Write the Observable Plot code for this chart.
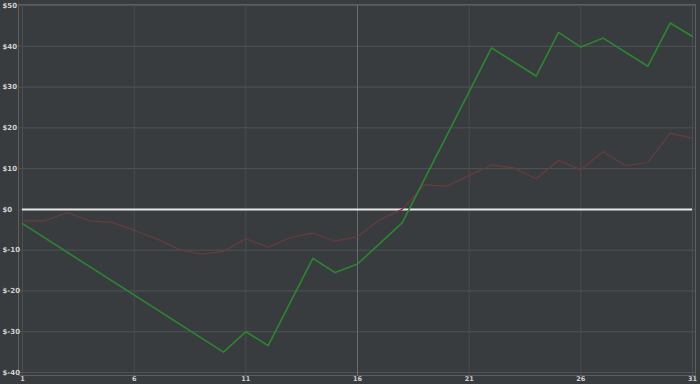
<!DOCTYPE html>
<html>
<head>
<meta charset="utf-8">
<script src="https://cdn.jsdelivr.net/npm/d3@7"></script>
<script src="https://cdn.jsdelivr.net/npm/@observablehq/plot@0.6"></script>
<style>
  html, body { margin: 0; padding: 0; background: #393c3f; }
  #chart svg { display: block; }
</style>
</head>
<body>
<div id="chart"></div>
<script>
// Green series (day, value)
const greenDays   = [1, 10, 11, 12, 14, 15, 16, 18, 22, 24, 25, 26, 27, 29, 30, 31];
const greenValues = [-3.5, -35, -30, -33.4, -12, -15.5, -13.4, -3.3, 39.6, 32.7, 43.4, 39.8, 42, 35.1, 45.7, 42.4];

// Red series (day, value)
const redDays   = [1, 2, 3, 4, 5, 6, 7, 8, 9, 10, 11, 12, 13, 14, 15, 16, 17, 18, 19, 20, 21, 22, 23, 24, 25, 26, 27, 28, 29, 30, 31];
const redValues = [-2.8, -2.8, -0.8, -2.8, -3.2, -5.1, -7.2, -9.8, -11, -10.3, -7.2, -9.3, -6.9, -5.8, -7.8, -6.7, -2.5, 0, 6, 5.7, 8.3, 10.9, 10.2, 7.5, 12, 9.7, 14.2, 10.7, 11.5, 18.7, 17.4];

const xTicks = [1, 6, 11, 16, 21, 26, 31];
const yTicks = [-40, -30, -20, -10, 0, 10, 20, 30, 40, 50];
const highlightDay = [16];
const zeroLine = [0];

const green = greenDays.map((d, i) => ({day: d, value: greenValues[i]}));
const red = redDays.map((d, i) => ({day: d, value: redValues[i]}));

const firstDay = xTicks[0];
const lastDay = xTicks[xTicks.length - 1];

const labelColor = "#d0d0d0";
const font = "DejaVu Sans, sans-serif";

const chart = Plot.plot({
  width: 700,
  height: 384,
  marginLeft: 18,
  marginRight: 5,
  marginTop: 4,
  marginBottom: 9,
  style: {background: "#393c3f", fontFamily: font, overflow: "visible"},
  x: {domain: [firstDay, lastDay], insetLeft: 4, insetRight: 3},
  y: {domain: [-40, 50], insetTop: 1, insetBottom: 3},
  marks: [
    Plot.gridY(yTicks, {stroke: "#515457", strokeOpacity: 1, strokeWidth: 1}),
    Plot.gridX(xTicks, {stroke: "#4b4e51", strokeOpacity: 1, strokeWidth: 1}),
    Plot.gridX(highlightDay, {stroke: "#6a6d70", strokeOpacity: 1, strokeWidth: 1}),
    Plot.frame({stroke: "#5c5f62", strokeWidth: 1}),
    Plot.ruleY(zeroLine, {x1: () => firstDay, x2: () => lastDay, stroke: "#e6e6e6", strokeWidth: 2}),
    Plot.line(red, {x: "day", y: "value", stroke: "#6b3b3c", strokeWidth: 1.2}),
    Plot.line(green, {x: "day", y: "value", stroke: "#2d8531", strokeWidth: 1.6}),
    Plot.axisX(xTicks, {
      tickSize: 0, tickPadding: 1, fontSize: 6.5, fontWeight: "bold", fill: labelColor,
      tickFormat: d => String(d), label: null
    }),
    Plot.axisY(yTicks, {
      anchor: "left", tickSize: 0, tickPadding: 0, textAnchor: "start", dx: -16,
      fontSize: 7, fontWeight: "bold", fill: labelColor,
      tickFormat: d => "$" + d, label: null
    })
  ]
});

document.getElementById("chart").appendChild(chart);
</script>
</body>
</html>
